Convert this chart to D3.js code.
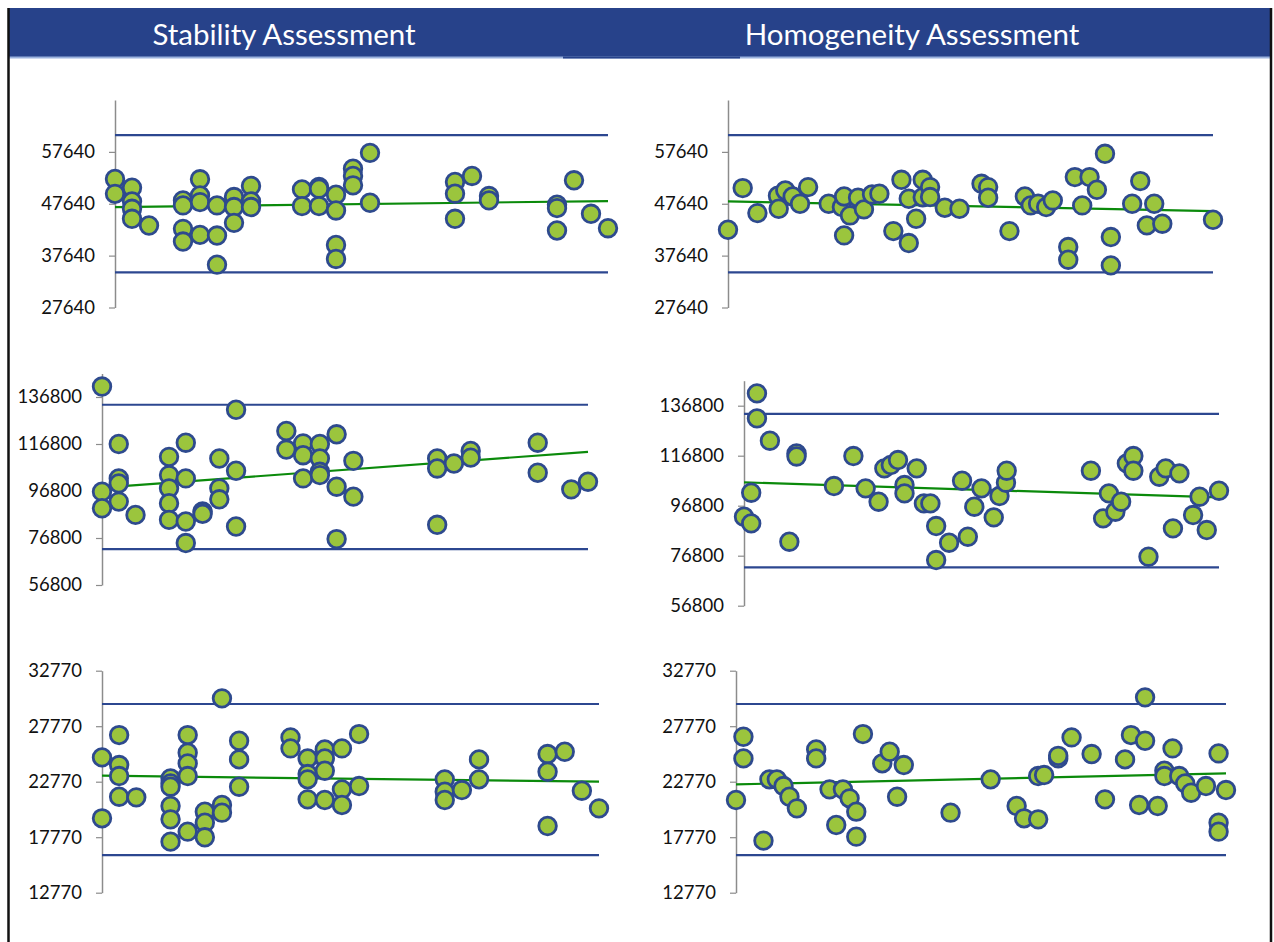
<!DOCTYPE html>
<html>
<head>
<meta charset="utf-8">
<script src="https://cdn.jsdelivr.net/npm/d3@7"></script>
<style>
  body { margin: 0; background: #ffffff; }
  svg text { font-family: Lato, "Open Sans", sans-serif; }
</style>
</head>
<body>
<div id="chart"></div>
<script>
// header titles
const sectionTitles = ["Stability Assessment", "Homogeneity Assessment"];

// y axis domains and tick labels (one per row of charts)
const yDomainRow1 = [27640, 67640];
const yTicksRow1 = [27640, 37640, 47640, 57640];
const yDomainRow2 = [56800, 146800];
const yTicksRow2 = [56800, 76800, 96800, 116800, 136800];
const yDomainRow3 = [12770, 32770];
const yTicksRow3 = [12770, 17770, 22770, 27770, 32770];

// x extents: stability = time point index, homogeneity = sample position
const stabilityXMax = 29;
const homogeneityXMax = 66;

// stability, row 1 : [time point, result]
const stability1 = [
  [0, 52420], [0, 49550], [1, 50740], [1, 48100], [1, 46670], [1, 44740],
  [2, 43450], [4, 48290], [4, 47320], [4, 42800], [4, 40350],
  [5, 52350], [5, 49250], [5, 47960], [5, 41640], [6, 47320], [6, 41510], [6, 35900],
  [7, 48930], [7, 47000], [7, 43960], [8, 51060], [8, 48090], [8, 47000],
  [11, 50410], [11, 47190], [12, 50870], [12, 50540], [12, 47190],
  [13, 49380], [13, 46350], [13, 39700], [13, 37000],
  [14, 54410], [14, 53000], [14, 51190], [15, 57450], [15, 47830],
  [20, 51830], [20, 49580], [20, 44740], [21, 53000], [22, 49120], [22, 48290],
  [26, 47450], [26, 46800], [26, 42480], [27, 52160], [28, 45700], [29, 42930]
];
const stabilityTrend1 = [47000, 48160];
const stabilityLimits1 = [34410, 60870];

// stability, row 2
const stability2 = [
  [0, 141240], [0, 96520], [0, 89460],
  [1, 116800], [1, 102160], [1, 100050], [1, 92290], [2, 86640],
  [4, 111330], [4, 103570], [4, 97930], [4, 91580], [4, 84530],
  [5, 117360], [5, 102160], [5, 83820], [5, 74650], [6, 88050], [6, 87060],
  [7, 110630], [7, 97930], [7, 93270], [8, 131370], [8, 105410], [8, 81700],
  [11, 122340], [11, 114440], [12, 117080], [12, 112040], [12, 102160],
  [13, 116800], [13, 110630], [13, 104980], [13, 103570],
  [14, 120930], [14, 98630], [14, 76340], [15, 109640], [15, 94400],
  [20, 110630], [20, 106390], [20, 82410], [21, 108510], [22, 113870], [22, 111000],
  [26, 117360], [26, 104560], [28, 97500], [29, 100750]
];
const stabilityTrend2 = [98210, 113450];
const stabilityLimits2 = [72100, 133500];

// stability, row 3
const stability3 = [
  [0, 24960], [0, 19470], [1, 26970], [1, 24270], [1, 23280], [1, 21420], [2, 21360],
  [4, 23070], [4, 22620], [4, 22320], [4, 20580], [4, 19380], [4, 17370],
  [5, 26970], [5, 25380], [5, 24420], [5, 23280], [5, 18270],
  [6, 20070], [6, 19080], [6, 17760], [7, 30280], [7, 20670], [7, 19980],
  [8, 26460], [8, 24780], [8, 22320], [11, 26760], [11, 25770],
  [12, 24870], [12, 23460], [12, 22980], [12, 21180],
  [13, 25680], [13, 24870], [13, 23760], [13, 21120],
  [14, 25770], [14, 22080], [14, 20670], [15, 27060], [15, 22380],
  [20, 22980], [20, 21870], [20, 21120], [21, 22020], [22, 24780], [22, 22980],
  [26, 25260], [26, 23670], [26, 18780], [27, 25470], [28, 21960], [29, 20370]
];
const stabilityTrend3 = [23310, 22770];
const stabilityLimits3 = [16160, 29770];

// homogeneity, row 1 : [sample position, result]
const homogeneity1 = [
  [0, 42630], [2, 50660], [4, 45840], [6.8, 49180], [6.9, 46680], [7.8, 50210],
  [8.8, 49050], [9.8, 47640], [10.9, 50850], [13.7, 47640], [15.5, 47000],
  [15.8, 49050], [16.6, 45390], [15.8, 41540], [17.7, 48800], [18.5, 46550],
  [19.6, 49440], [20.6, 49570], [22.5, 42370], [23.6, 52260], [24.6, 48600],
  [24.6, 40060], [25.6, 44750], [26.5, 52260], [26.5, 48900], [27.5, 50850],
  [27.5, 48930], [29.5, 46870], [31.5, 46680], [34.5, 51490], [35.4, 50850],
  [35.4, 48800], [38.3, 42370], [40.4, 49050], [41.2, 47320], [42.2, 47640],
  [43.3, 47000], [44.2, 48280], [46.3, 39290], [46.3, 36850], [47.2, 52780],
  [48.2, 47320], [49.2, 52780], [50.2, 50340], [51.3, 57270], [52.1, 41220],
  [52.1, 35760], [55, 47640], [56.1, 52010], [57, 43470], [58, 47640],
  [59.1, 43790], [66, 44560]
];
const homogeneityTrend1 = [48090, 46230];
const homogeneityLimits1 = [34410, 60870];

// homogeneity, row 2
const homogeneity2 = [
  [0, 92400], [1, 89730], [1, 102000], [1.8, 141730], [1.8, 131730], [3.6, 122800],
  [6.3, 82400], [7.3, 117730], [7.3, 116500], [12.5, 104670], [15.2, 116670],
  [16.9, 103730], [18.7, 98400], [19.5, 111730], [20.4, 113070], [21.4, 115070],
  [22.3, 105070], [22.3, 101730], [24, 111730], [25, 97730], [25.9, 97730],
  [26.7, 88670], [26.7, 75070], [28.5, 82000], [30.3, 106800], [31.1, 84400],
  [32, 96400], [33, 103730], [34.7, 92130], [35.5, 100670], [36.4, 106000],
  [36.5, 110800], [48.2, 110800], [49.9, 91730], [50.7, 101730], [51.6, 94400],
  [52.4, 98400], [53.2, 113730], [54.1, 116670], [54.1, 110800], [56.2, 76400],
  [57.7, 108400], [58.6, 111730], [59.6, 87730], [60.5, 109730], [62.4, 93070],
  [63.3, 100400], [64.3, 87070], [66, 102800]
];
const homogeneityTrend2 = [106130, 100130];
const homogeneityLimits2 = [72100, 133500];

// homogeneity, row 3
const homogeneity3 = [
  [0, 21120], [1, 26820], [1, 24870], [3.7, 17460], [4.5, 22980], [5.5, 22980],
  [6.4, 22380], [7.2, 21420], [8.2, 20370], [10.8, 25680], [10.8, 24870],
  [12.6, 22080], [13.5, 18870], [14.4, 22080], [15.3, 21270], [16.2, 20070],
  [16.2, 17820], [17.1, 27060], [19.7, 24420], [20.7, 25470], [21.7, 21420],
  [22.6, 24270], [28.9, 19980], [34.3, 22980], [37.8, 20580], [38.8, 19470],
  [40.7, 23280], [40.7, 19380], [41.5, 23370], [43.4, 24870], [43.4, 25100],
  [45.2, 26760], [47.9, 25260], [49.7, 21180], [52.4, 24780], [53.2, 26970],
  [54.3, 20670], [55.1, 30370], [55.1, 26460], [56.8, 20580], [57.7, 23760],
  [57.7, 23280], [58.8, 25770], [59.7, 23280], [60.5, 22620], [61.3, 21780],
  [63.3, 22380], [65, 25320], [65, 19080], [65, 18270], [66, 22020]
];
const homogeneityTrend3 = [22530, 23520];
const homogeneityLimits3 = [16160, 29770];

const width = 1274;
const height = 942;

const headerBlue = "#27428a";
const limitBlue = "#2c4790";
const markerFill = "#9bc53d";
const markerStroke = "#2e4a8e";
const trendGreen = "#0b8a0b";
const axisGrey = "#8c8c8c";

const svg = d3
  .select("#chart")
  .append("svg")
  .attr("width", width)
  .attr("height", height);

// header band
svg
  .append("rect")
  .attr("x", 8)
  .attr("y", 8)
  .attr("width", 1263)
  .attr("height", 49)
  .attr("fill", headerBlue);

svg
  .append("line")
  .attr("x1", 8)
  .attr("x2", 1271)
  .attr("y1", 57.5)
  .attr("y2", 57.5)
  .attr("stroke", "#9bb2dd")
  .attr("stroke-width", 2);

svg
  .append("line")
  .attr("x1", 563)
  .attr("x2", 740)
  .attr("y1", 57.5)
  .attr("y2", 57.5)
  .attr("stroke", headerBlue)
  .attr("stroke-width", 2);

svg
  .selectAll("text.section")
  .data(sectionTitles)
  .join("text")
  .attr("class", "section")
  .attr("x", (d, i) => (i === 0 ? 284 : 912))
  .attr("y", 44.5)
  .attr("text-anchor", "middle")
  .attr("fill", "#ffffff")
  .style("font-size", "29.5px")
  .text((d) => d);

// side borders
[8.5, 1271].forEach((x) => {
  svg
    .append("line")
    .attr("x1", x)
    .attr("x2", x)
    .attr("y1", 8)
    .attr("y2", height)
    .attr("stroke", "#111111")
    .attr("stroke-width", 2.5);
});

function drawPanel(frame, points, trend, limits, yDomain, yTicks, xMax) {
  const x = d3.scaleLinear().domain([0, xMax]).range([frame.left, frame.right]);
  const y = d3.scaleLinear().domain(yDomain).range([frame.bottom, frame.top]);

  const g = svg.append("g");

  // y axis
  const axis = g
    .append("g")
    .attr("transform", `translate(${frame.left},0)`)
    .call(
      d3
        .axisLeft(y)
        .tickValues(yTicks)
        .tickSize(6)
        .tickSizeOuter(0)
        .tickPadding(14)
        .tickFormat(d3.format("d"))
    );
  axis.select(".domain").attr("stroke", axisGrey).attr("stroke-width", 1.5);
  axis.selectAll(".tick line").attr("stroke", axisGrey).attr("stroke-width", 1.2);
  axis
    .selectAll(".tick text")
    .attr("fill", "#111111")
    .style("font-size", "18.5px")
    .style("font-family", "Lato, 'Open Sans', sans-serif");

  // control limits
  g.selectAll("line.limit")
    .data(limits)
    .join("line")
    .attr("class", "limit")
    .attr("x1", x(0))
    .attr("x2", x(xMax))
    .attr("y1", (d) => y(d))
    .attr("y2", (d) => y(d))
    .attr("stroke", limitBlue)
    .attr("stroke-width", 2.2);

  // trend line
  g.append("line")
    .attr("x1", x(0))
    .attr("x2", x(xMax))
    .attr("y1", y(trend[0]))
    .attr("y2", y(trend[1]))
    .attr("stroke", trendGreen)
    .attr("stroke-width", 2.2);

  // results
  g.selectAll("circle")
    .data(points)
    .join("circle")
    .attr("cx", (d) => x(d[0]))
    .attr("cy", (d) => y(d[1]))
    .attr("r", 8.8)
    .attr("fill", markerFill)
    .attr("stroke", markerStroke)
    .attr("stroke-width", 2.8);
}

drawPanel({ left: 115, right: 608, top: 100, bottom: 307.5 },
  stability1, stabilityTrend1, stabilityLimits1, yDomainRow1, yTicksRow1, stabilityXMax);
drawPanel({ left: 102, right: 588, top: 373.5, bottom: 585 },
  stability2, stabilityTrend2, stabilityLimits2, yDomainRow2, yTicksRow2, stabilityXMax);
drawPanel({ left: 102, right: 599, top: 670.7, bottom: 892.7 },
  stability3, stabilityTrend3, stabilityLimits3, yDomainRow3, yTicksRow3, stabilityXMax);

drawPanel({ left: 728, right: 1213, top: 100, bottom: 307.5 },
  homogeneity1, homogeneityTrend1, homogeneityLimits1, yDomainRow1, yTicksRow1, homogeneityXMax);
drawPanel({ left: 744, right: 1219, top: 380.7, bottom: 605.7 },
  homogeneity2, homogeneityTrend2, homogeneityLimits2, yDomainRow2, yTicksRow2, homogeneityXMax);
drawPanel({ left: 736, right: 1226, top: 670.7, bottom: 892.7 },
  homogeneity3, homogeneityTrend3, homogeneityLimits3, yDomainRow3, yTicksRow3, homogeneityXMax);
</script>
</body>
</html>
